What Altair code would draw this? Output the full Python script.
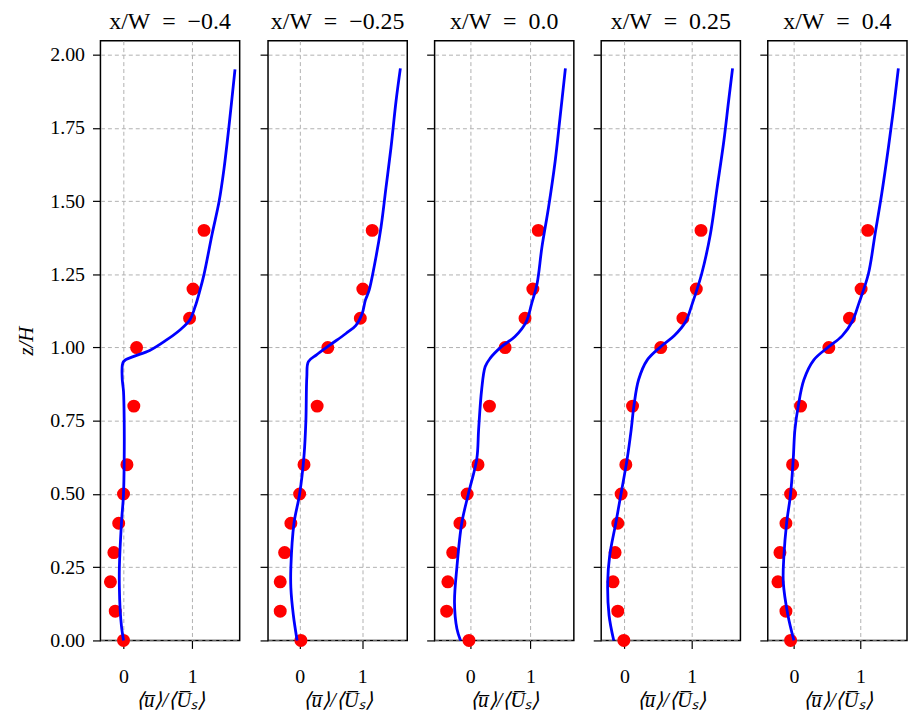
import altair as alt
import pandas as pd

# Measured (red dots) heights and values
Z_EXP = [0.0, 0.1, 0.2, 0.3, 0.4, 0.5, 0.6, 0.8, 1.0, 1.1, 1.2, 1.4]
EXP_M040 = [0.00, -0.12, -0.19, -0.14, -0.07, 0.00, 0.05, 0.15, 0.19, 0.96, 1.01, 1.17]
EXP_M025 = [0.02, -0.31, -0.31, -0.24, -0.14, 0.00, 0.07, 0.28, 0.45, 0.97, 1.01, 1.16]
EXP_000 = [-0.02, -0.39, -0.37, -0.29, -0.17, -0.05, 0.13, 0.32, 0.58, 0.91, 1.04, 1.13]
EXP_P025 = [-0.01, -0.10, -0.17, -0.14, -0.10, -0.05, 0.02, 0.12, 0.54, 0.87, 1.07, 1.14]
EXP_P040 = [-0.05, -0.12, -0.24, -0.21, -0.12, -0.05, -0.02, 0.10, 0.525, 0.835, 1.01, 1.11]

# Simulated profiles (blue lines)
Z1 = [0.0, 0.05, 0.11, 0.18, 0.25, 0.40, 0.50, 0.62, 0.75, 0.85, 0.90, 0.952, 0.969, 0.99, 1.025, 1.06, 1.093, 1.139, 1.195, 1.25, 1.39, 1.50, 1.61, 1.75, 1.95]
U1 = [0.0, -0.03, -0.05, -0.06, -0.06, -0.03, 0.0, 0.01, 0.01, 0.0, -0.02, 0.0, 0.14, 0.38, 0.62, 0.82, 0.96, 1.04, 1.11, 1.17, 1.29, 1.39, 1.46, 1.53, 1.62]
Z2 = [0.0, 0.086, 0.18, 0.25, 0.40, 0.50, 0.63, 0.75, 0.90, 0.952, 0.975, 1.008, 1.048, 1.076, 1.116, 1.161, 1.195, 1.275, 1.41, 1.546, 1.682, 1.84, 1.953]
U2 = [-0.04, -0.10, -0.14, -0.14, -0.09, 0.0, 0.07, 0.10, 0.115, 0.14, 0.27, 0.48, 0.74, 0.90, 1.0, 1.05, 1.11, 1.19, 1.30, 1.38, 1.46, 1.54, 1.61]
Z3 = [0.0, 0.04, 0.13, 0.25, 0.40, 0.50, 0.62, 0.72, 0.855, 0.935, 0.963, 1.003, 1.037, 1.088, 1.15, 1.218, 1.342, 1.478, 1.636, 1.783, 1.953]
U3 = [-0.16, -0.22, -0.26, -0.22, -0.14, -0.03, 0.11, 0.14, 0.19, 0.25, 0.33, 0.52, 0.74, 0.93, 1.02, 1.11, 1.19, 1.30, 1.41, 1.49, 1.58]
Z4 = [0.0, 0.086, 0.20, 0.29, 0.40, 0.49, 0.62, 0.72, 0.80, 0.89, 0.958, 1.003, 1.04, 1.088, 1.15, 1.252, 1.388, 1.546, 1.705, 1.84, 1.953]
U4 = [-0.16, -0.23, -0.25, -0.22, -0.13, -0.06, 0.04, 0.10, 0.14, 0.21, 0.34, 0.54, 0.74, 0.91, 1.01, 1.15, 1.28, 1.38, 1.48, 1.55, 1.61]
Z5 = [0.0, 0.086, 0.20, 0.29, 0.40, 0.50, 0.62, 0.72, 0.80, 0.89, 0.958, 1.003, 1.04, 1.088, 1.15, 1.252, 1.388, 1.525, 1.682, 1.82, 1.953]
U5 = [0.0, -0.09, -0.16, -0.15, -0.11, -0.05, -0.01, 0.015, 0.065, 0.15, 0.30, 0.525, 0.725, 0.875, 0.975, 1.12, 1.22, 1.32, 1.42, 1.50, 1.57]

TITLES = ["x/W\u2002=\u2002−0.4", "x/W\u2002=\u2002−0.25", "x/W\u2002=\u20020.0",
          "x/W\u2002=\u20020.25", "x/W\u2002=\u20020.4"]
X_DOMAINS = [[-0.335, 1.688], [-0.505, 1.72], [-0.59, 1.72], [-0.347, 1.727], [-0.393, 1.70]]
Y_TICKS = [0.0, 0.25, 0.5, 0.75, 1.0, 1.25, 1.5, 1.75, 2.0]
X_TICKS = [0, 1]

EXPS = [EXP_M040, EXP_M025, EXP_000, EXP_P025, EXP_P040]
PROFILES = [(Z1, U1), (Z2, U2), (Z3, U3), (Z4, U4), (Z5, U5)]

FONT = "Liberation Serif"
XTITLE = "⟨u̅⟩/⟨U̅ₛ⟩"

panels = []
for i in range(5):
    pts = pd.DataFrame({"z": Z_EXP, "u": EXPS[i]})
    zl, ul = PROFILES[i]
    prof = pd.DataFrame({"z": zl, "u": ul, "k": list(range(len(zl)))})
    x_enc = alt.X(
        "u:Q",
        scale=alt.Scale(domain=X_DOMAINS[i], nice=False, zero=False),
        axis=alt.Axis(values=X_TICKS, format="d", title=XTITLE),
    )
    if i == 0:
        yaxis = alt.Axis(values=Y_TICKS, format=".2f", title="z/H")
    else:
        yaxis = alt.Axis(values=Y_TICKS, labels=False, title="")
    y_enc = alt.Y("z:Q", scale=alt.Scale(domain=[0, 2.0475], nice=False, zero=False), axis=yaxis)
    dots = alt.Chart(pts).mark_circle(color="#ff0000", size=170, opacity=1).encode(x=x_enc, y=y_enc)
    line = alt.Chart(prof).mark_line(color="#0000ff", strokeWidth=2.8, interpolate="catmull-rom").encode(
        x=x_enc, y=y_enc, order=alt.Order("k:Q")
    )
    panel = alt.layer(dots, line).properties(
        width=140,
        height=603,
        title=alt.TitleParams(TITLES[i], font=FONT, fontSize=24, fontWeight="normal", color="black", offset=7),
    )
    panels.append(panel)

chart = (
    alt.hconcat(*panels, spacing=16.5)
    .resolve_scale(x="independent")
    .properties(padding={"left": 15, "top": 7, "right": 0, "bottom": 0})
    .configure_view(stroke="black", strokeWidth=1.5)
    .configure_axis(
        domain=False,
        grid=True,
        gridColor="#b0b0b0",
        gridDash=[4, 3],
        gridWidth=1,
        tickColor="black",
        tickSize=8,
        tickWidth=1.2,
        labelFont=FONT,
        labelFontSize=20,
        labelColor="black",
        titleFont=FONT,
        titleFontSize=21,
        titleFontWeight="normal",
        titleFontStyle="italic",
        titleColor="black",
    )
    .configure_axisY(titlePadding=13, labelPadding=8)
    .configure_axisX(titlePadding=3, labelPadding=18)
)

chart.save("out.html", embed_options={"renderer": "svg", "actions": False})
